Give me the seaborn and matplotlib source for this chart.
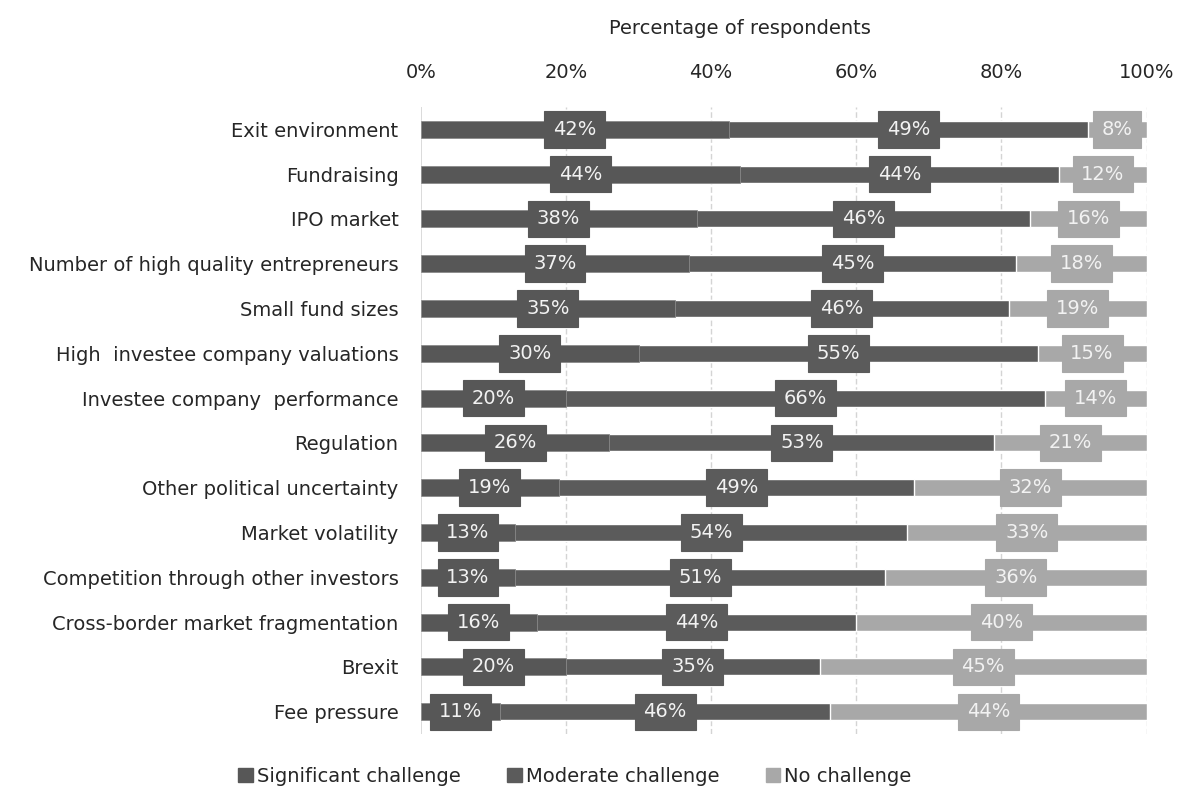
import pandas as pd
import numpy as np
import matplotlib
matplotlib.use("Agg")
import matplotlib.pyplot as plt
from matplotlib.patches import Patch
import seaborn as sns

# Werte (Prozent der Befragten)
challenges = [
    "Exit environment",
    "Fundraising",
    "IPO market",
    "Number of high quality entrepreneurs",
    "Small fund sizes",
    "High  investee company valuations",
    "Investee company  performance",
    "Regulation",
    "Other political uncertainty",
    "Market volatility",
    "Competition through other investors",
    "Cross-border market fragmentation",
    "Brexit",
    "Fee pressure",
]
significant = [42, 44, 38, 37, 35, 30, 20, 26, 19, 13, 13, 16, 20, 11]
moderate = [49, 44, 46, 45, 46, 55, 66, 53, 49, 54, 51, 44, 35, 46]
no_challenge = [8, 12, 16, 18, 19, 15, 14, 21, 32, 33, 36, 40, 45, 44]

series_names = ["Significant challenge", "Moderate challenge", "No challenge"]
colors = ["#575757", "#5b5b5b", "#a8a8a8"]

df = pd.DataFrame({
    "challenge": challenges,
    "sig": significant,
    "mod": moderate,
    "no": no_challenge,
})
# auf 100% normieren (Rundungsfehler)
tot = df[["sig", "mod", "no"]].sum(axis=1)
df["c1"] = df["sig"] / tot * 100
df["c2"] = (df["sig"] + df["mod"]) / tot * 100
df["c3"] = 100.0 * tot / tot

sns.set_theme(style="white")
plt.rcParams["font.family"] = ["DejaVu Sans"]
txt_col = "#262626"
fs = 14

fig = plt.figure(figsize=(11.82, 7.98), dpi=100)
ax = fig.add_axes([0.356, 0.080, 0.614, 0.786])

bar_w = 0.38
# gestapelte Balken: von hinten nach vorne
sns.barplot(data=df, x="c3", y="challenge", order=challenges, color=colors[2],
            saturation=1, width=bar_w, ax=ax, zorder=2)
sns.barplot(data=df, x="c2", y="challenge", order=challenges, color=colors[1],
            saturation=1, width=bar_w, ax=ax, zorder=3)
sns.barplot(data=df, x="c1", y="challenge", order=challenges, color=colors[0],
            saturation=1, width=bar_w, ax=ax, zorder=4,
            edgecolor="#8a8a8a", linewidth=0.6)

# Beschriftungen mit Kasten
for i, row in df.iterrows():
    segs = [(0, row["c1"], row["sig"], colors[0]),
            (row["c1"], row["c2"], row["mod"], colors[1]),
            (row["c2"], row["c3"], row["no"], colors[2])]
    for start, end, val, col in segs:
        ax.text((start + end) / 2, i, f"{val}%", ha="center", va="center",
                fontsize=14, color="#f2f2f2", zorder=6,
                bbox=dict(boxstyle="square,pad=0.45", facecolor=col,
                          edgecolor=col, linewidth=0.8))

ax.set_xlim(0, 100)
ax.set_ylim(13.5, -0.5)
ax.set_xticks([0, 20, 40, 60, 80, 100])
ax.set_xticklabels(["0%", "20%", "40%", "60%", "80%", "100%"])
ax.xaxis.tick_top()
ax.set_xlabel("")
ax.set_ylabel("")
ax.tick_params(axis="x", length=0, pad=18, labelsize=fs, labelcolor=txt_col)
ax.tick_params(axis="y", length=0, pad=16, labelsize=fs, labelcolor=txt_col)
fig.text(740 / 1182, 1 - 28 / 798, "Percentage of respondents", ha="center",
         va="center", fontsize=fs, color=txt_col)

for x in [20, 40, 60, 80, 100]:
    ax.axvline(x, color="#d4d4d4", linewidth=1, linestyle=(0, (4, 2)), zorder=1)
ax.axvline(0, color="#d4d4d4", linewidth=1.2, zorder=1)

for s in ax.spines.values():
    s.set_visible(False)

handles = [Patch(facecolor=c, edgecolor=c) for c in colors]
fig.legend(handles, series_names, loc="center", bbox_to_anchor=(575 / 1182, 1 - 776 / 798),
           ncol=3, frameon=False, fontsize=fs, handlelength=0.75, handleheight=0.75,
           handletextpad=0.2, columnspacing=2.4, labelcolor=txt_col)

fig.savefig("out.png", dpi=100)
